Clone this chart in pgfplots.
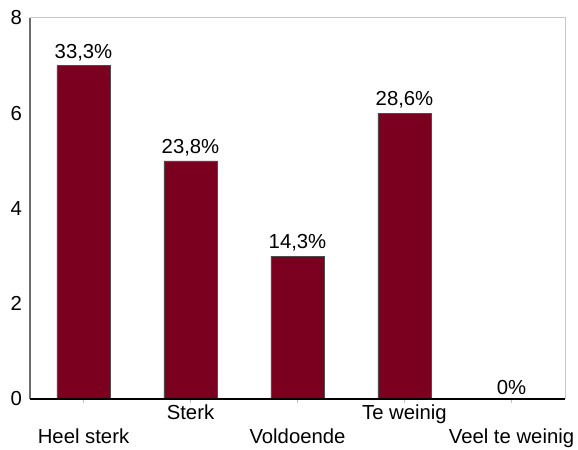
\documentclass[border=0pt]{standalone}
\usepackage{pgfplots}
\pgfplotsset{compat=1.18}
\usepackage{fontspec}
\setmainfont{Liberation Sans}
\definecolor{barred}{RGB}{123,0,32}
\newcommand{\fs}{\fontsize{20.3}{24}\selectfont}
\begin{document}
\begin{tikzpicture}
\begin{axis}[name=ax, anchor=south west, scale only axis,
  width=535pt, height=381pt,
  xmin=-0.5, xmax=4.5, ymin=0, ymax=8,
  axis line style={draw=none},
  /pgf/number format/assume math mode=true,
  ytick={0,2,4,6,8},
  ytick style={draw=none},
  yticklabel style={font=\fs, inner sep=1pt, xshift=-3pt},
  xtick={0,2,4},
  xticklabels={Heel sterk,Voldoende,Veel te weinig},
  xtick pos=bottom, tick align=outside, major tick length=4pt,
  xtick style={draw=gray!50, line width=0.6pt},
  xticklabel style={font=\fs, inner sep=2pt, yshift=-24pt},
  extra x ticks={1,3},
  extra x tick labels={Sterk,Te weinig},
  extra x tick style={xticklabel style={yshift=24pt}},
  ybar, bar width=53.5pt,
  nodes near coords, point meta=explicit symbolic,
  every node near coord/.append style={font=\fs, inner sep=4.5pt},
  clip=false,
]
\addplot[fill=barred, draw=gray!60!black, line width=0.5pt] coordinates {
  (0,7) [{33,3\%}]
  (1,5) [{23,8\%}]
  (2,3) [{14,3\%}]
  (3,6) [{28,6\%}]
  (4,0) [{0\%}]
};
\draw[gray!45, line width=1pt] (rel axis cs:0,1) -- (rel axis cs:1,1) -- (rel axis cs:1,0);
\draw[gray!85!black, line width=1.8pt] (rel axis cs:0,0) -- (rel axis cs:0,1);
\draw[black, line width=1.3pt] (rel axis cs:0,0) -- (rel axis cs:1,0);
\end{axis}
\pgfresetboundingbox
\path[use as bounding box] ([shift={(-30pt,-51pt)}]ax.south west) rectangle ([shift={(13pt,18pt)}]ax.north east);
\end{tikzpicture}
\end{document}
